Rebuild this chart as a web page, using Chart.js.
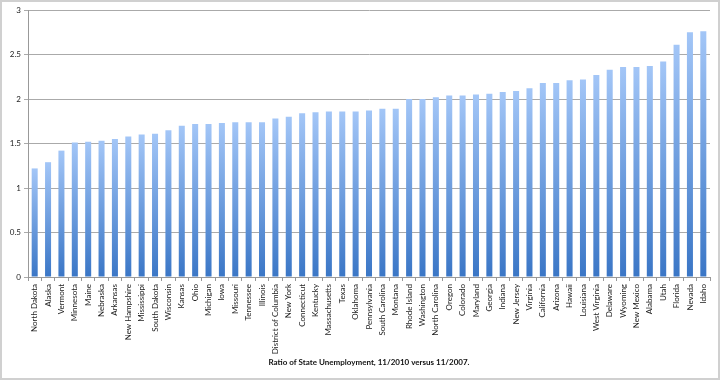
<!DOCTYPE html>
<html>
<head>
<meta charset="utf-8">
<script src="https://cdn.jsdelivr.net/npm/chart.js@4"></script>
<style>
html,body{margin:0;padding:0;background:#fff;}
#wrap{position:relative;width:720px;height:380px;box-sizing:border-box;border:2px solid #d0d0d0;}
canvas{display:block;}
</style>
</head>
<body>
<div id="wrap"><canvas id="c" width="716" height="376"></canvas></div>
<script>
const states = ["North Dakota","Alaska","Vermont","Minnesota","Maine","Nebraska","Arkansas","New Hampshire","Mississippi","South Dakota","Wisconsin","Kansas","Ohio","Michigan","Iowa","Missouri","Tennessee","Illinois","District of Columbia","New York","Connecticut","Kentucky","Massachusetts","Texas","Oklahoma","Pennsylvania","South Carolina","Montana","Rhode Island","Washington","North Carolina","Oregon","Colorado","Maryland","Georgia","Indiana","New Jersey","Virginia","California","Arizona","Hawaii","Louisiana","West Virginia","Delaware","Wyoming","New Mexico","Alabama","Utah","Florida","Nevada","Idaho"];
const ratios = [1.22,1.29,1.42,1.51,1.52,1.53,1.55,1.58,1.60,1.61,1.65,1.70,1.72,1.72,1.73,1.74,1.74,1.74,1.78,1.80,1.84,1.85,1.86,1.86,1.86,1.87,1.89,1.89,2.00,2.00,2.02,2.04,2.04,2.05,2.06,2.08,2.09,2.12,2.18,2.18,2.21,2.22,2.27,2.33,2.36,2.36,2.37,2.42,2.61,2.75,2.76];
const yTicks = [0,0.5,1,1.5,2,2.5,3];
const titleText = "Ratio of State Unemployment, 11/2010 versus 11/2007.";

function barFill(ctx){
  const chart = ctx.chart;
  if (!chart.chartArea || ctx.type !== 'data') return '#6a9ee4';
  const y = chart.scales.y;
  const top = y.getPixelForValue(ctx.parsed ? ctx.parsed.y : ratios[ctx.dataIndex]);
  const base = y.getPixelForValue(0);
  if (!isFinite(top) || !isFinite(base) || top === base) return '#6a9ee4';
  const g = chart.ctx.createLinearGradient(0, top, 0, base);
  g.addColorStop(0, '#a3c6f7');
  g.addColorStop(1, '#3a76c6');
  return g;
}

new Chart(document.getElementById('c'), {
  type: 'bar',
  data: {
    labels: states,
    datasets: [{
      data: ratios,
      backgroundColor: barFill,
      borderWidth: 0,
      barPercentage: 0.45,
      categoryPercentage: 1.0
    }]
  },
  options: {
    responsive: false,
    animation: false,
    devicePixelRatio: 1,
    layout: { padding: { top: 8, right: 8, left: 0, bottom: 11 } },
    plugins: {
      legend: { display: false },
      tooltip: { enabled: false },
      title: { display: false }
    },
    scales: {
      x: {
        offset: true,
        grid: { display: true, drawOnChartArea: false, drawTicks: true, tickLength: 4, color: '#999', offset: true },
        border: { display: true, color: '#999', width: 1 },
        title: {
          display: true,
          text: titleText,
          color: '#111',
          font: { family: 'Lato', size: 8, weight: 'bold', lineHeight: 1.2 },
          padding: { top: 0, bottom: 0 }
        },
        ticks: {
          autoSkip: false,
          maxRotation: 90,
          minRotation: 90,
          padding: 3,
          color: '#222',
          font: { family: 'Lato', size: 8 }
        },
        afterFit: (s) => { s.height = 90; }
      },
      y: {
        min: 0,
        max: 3,
        afterBuildTicks: (s) => { s.ticks = yTicks.map(v => ({ value: v })); },
        grid: { color: '#aaa', lineWidth: 1, drawTicks: true, tickLength: 4 },
        border: { display: true, color: '#999', width: 1 },
        ticks: {
          padding: 3,
          color: '#222',
          font: { family: 'Lato', size: 8 },
          callback: (v) => String(v)
        },
        afterFit: (s) => { s.width = 26; }
      }
    }
  }
});
</script>
</body>
</html>
